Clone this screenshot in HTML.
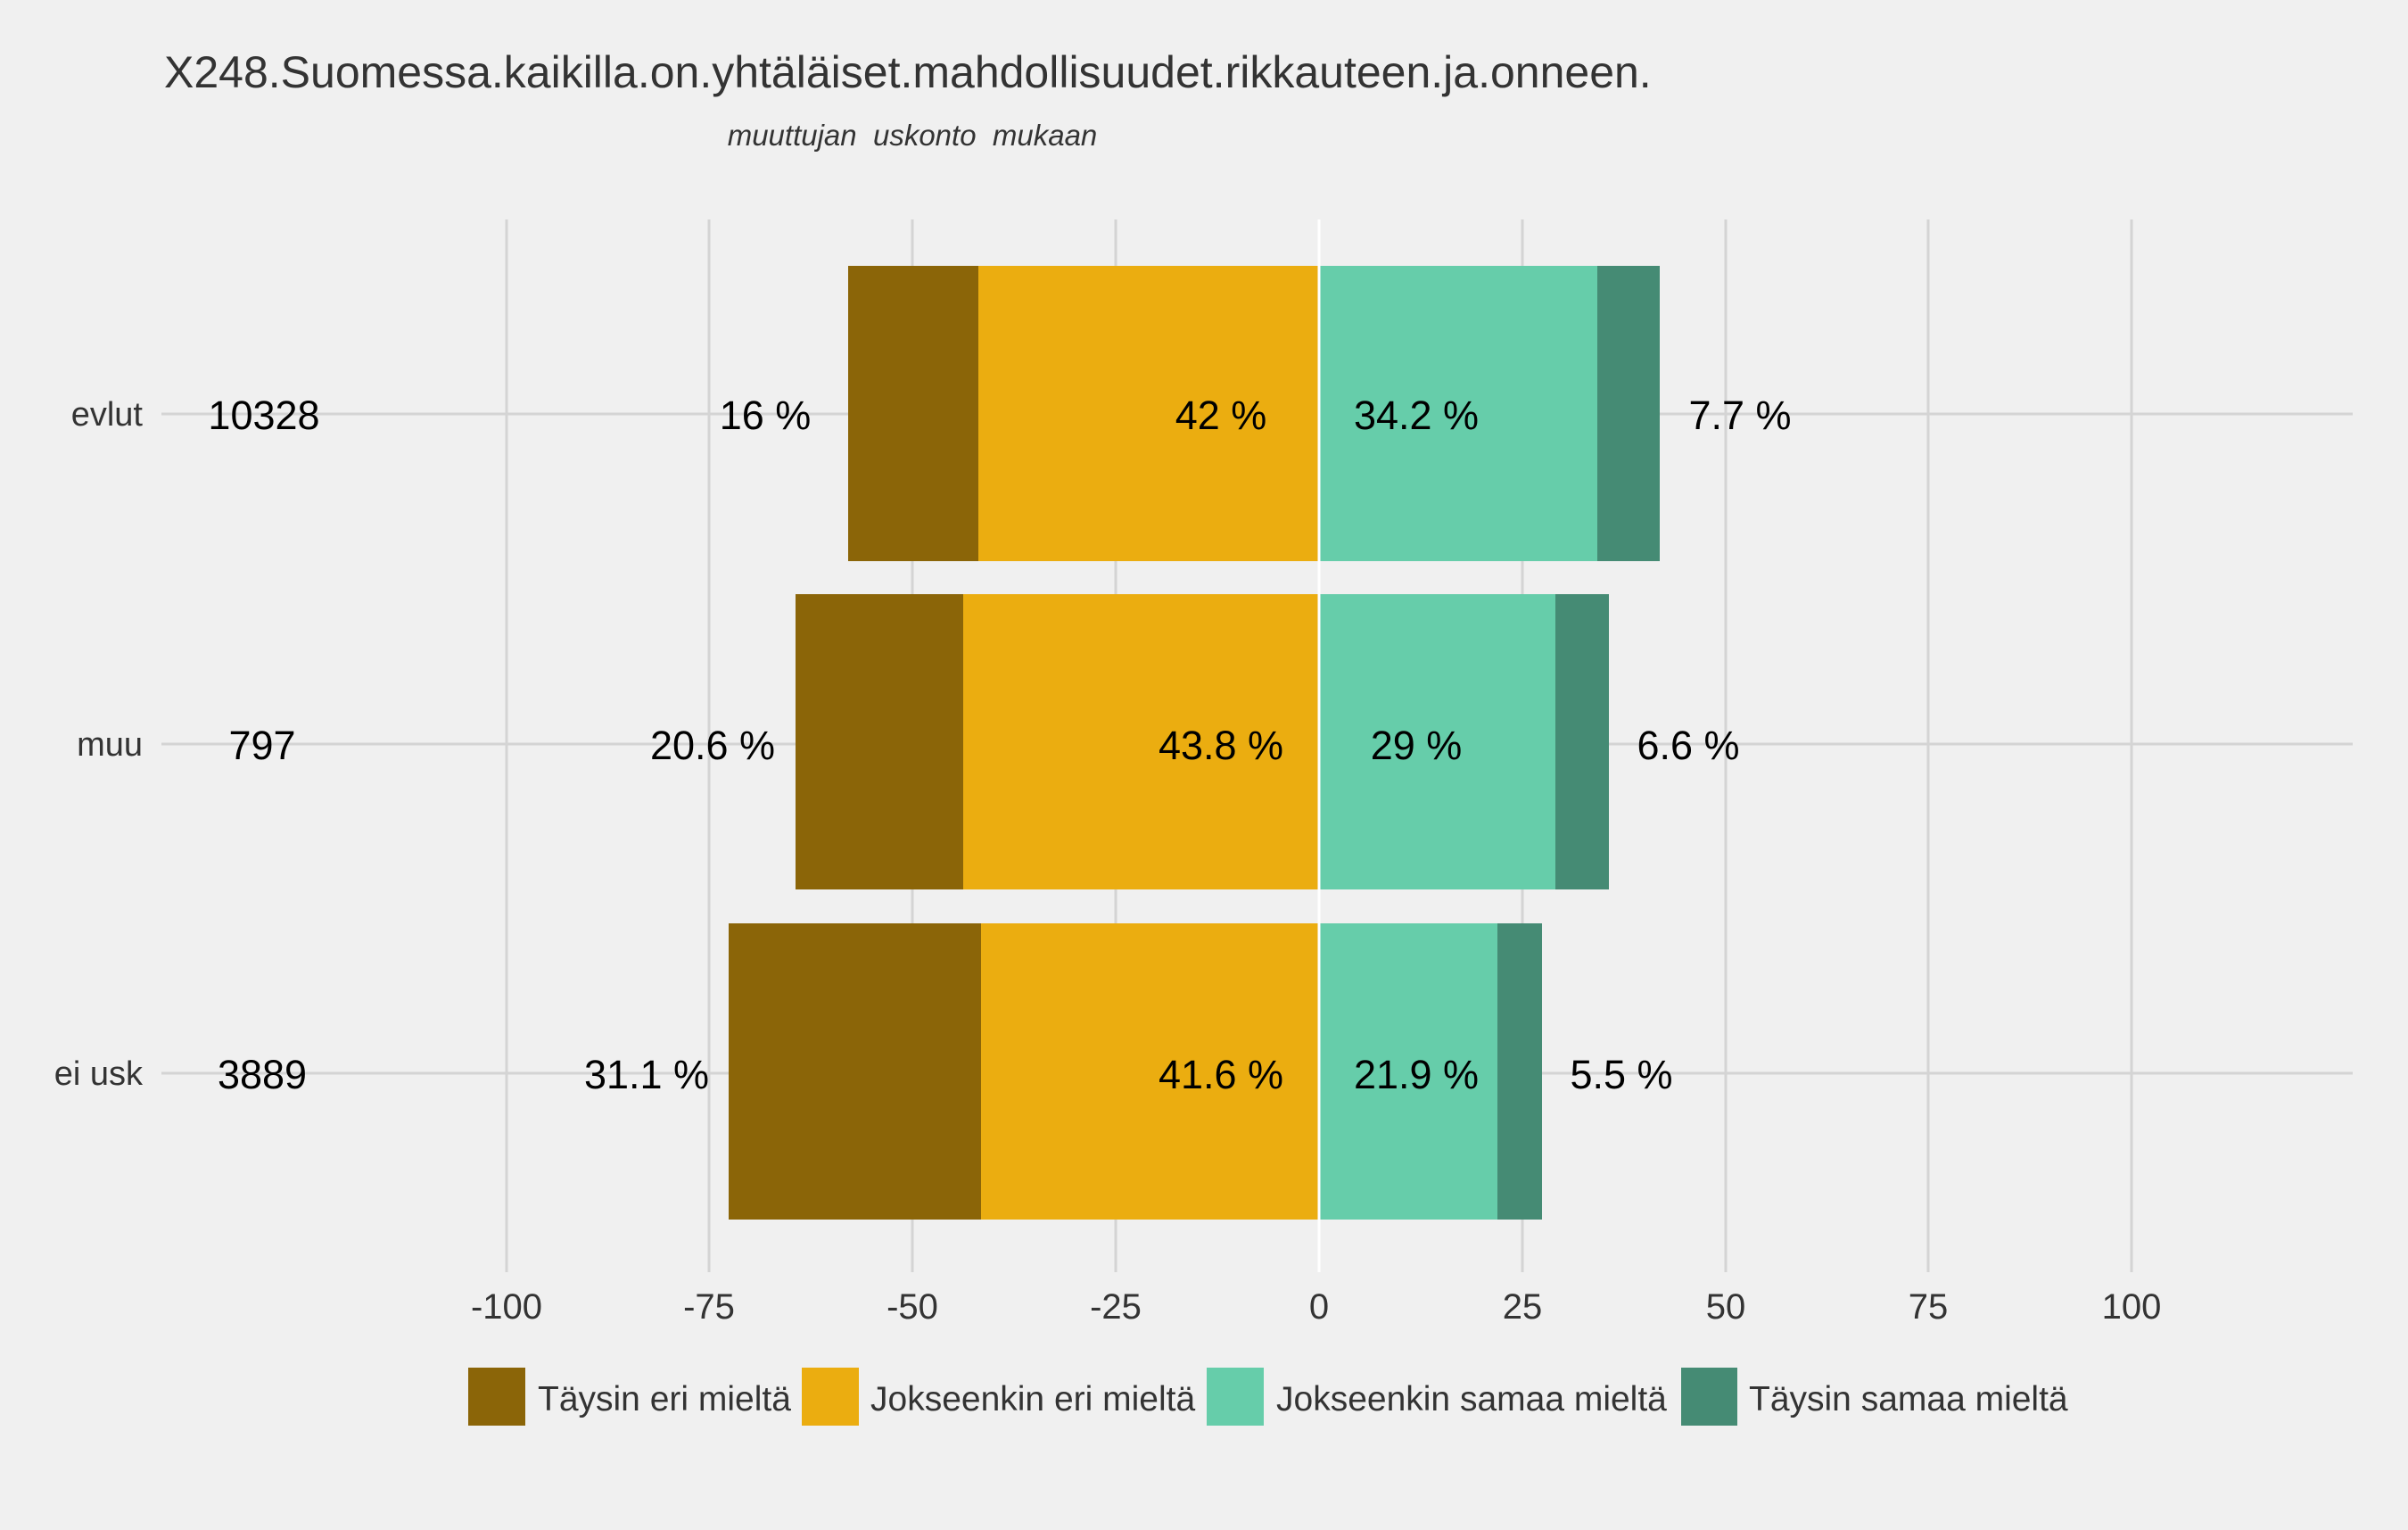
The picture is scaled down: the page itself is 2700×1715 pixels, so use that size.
<!DOCTYPE html>
<html><head><meta charset="utf-8"><style>html,body{margin:0;padding:0;background:#f0f0f0}svg{display:block}text{font-family:"Liberation Sans",Arial,sans-serif}</style></head><body>
<svg width="2700" height="1715" viewBox="0 0 2700 1715" xmlns="http://www.w3.org/2000/svg">
<rect width="2700" height="1715" fill="#f0f0f0"/>
<g stroke="#d4d4d4" stroke-width="3">
<line x1="568" y1="246" x2="568" y2="1426"/><line x1="795" y1="246" x2="795" y2="1426"/><line x1="1023" y1="246" x2="1023" y2="1426"/><line x1="1251" y1="246" x2="1251" y2="1426"/><line x1="1707" y1="246" x2="1707" y2="1426"/><line x1="1935" y1="246" x2="1935" y2="1426"/><line x1="2162" y1="246" x2="2162" y2="1426"/><line x1="2390" y1="246" x2="2390" y2="1426"/>
<line x1="181" y1="464" x2="2638" y2="464"/><line x1="181" y1="834" x2="2638" y2="834"/><line x1="181" y1="1203" x2="2638" y2="1203"/>
</g>
<rect x="951" y="298" width="146" height="331" fill="#8B6508"/>
<rect x="1097" y="298" width="382" height="331" fill="#EBAD10"/>
<rect x="1479" y="298" width="312" height="331" fill="#66CDAA"/>
<rect x="1791" y="298" width="70" height="331" fill="#458B74"/>
<rect x="892" y="666" width="188" height="331" fill="#8B6508"/>
<rect x="1080" y="666" width="399" height="331" fill="#EBAD10"/>
<rect x="1479" y="666" width="265" height="331" fill="#66CDAA"/>
<rect x="1744" y="666" width="60" height="331" fill="#458B74"/>
<rect x="817" y="1035" width="283" height="332" fill="#8B6508"/>
<rect x="1100" y="1035" width="379" height="332" fill="#EBAD10"/>
<rect x="1479" y="1035" width="200" height="332" fill="#66CDAA"/>
<rect x="1679" y="1035" width="50" height="332" fill="#458B74"/>
<line x1="1479" y1="246" x2="1479" y2="1426" stroke="#fff" stroke-width="3"/>
<g font-size="45" fill="#000" text-anchor="middle">
<text x="296" y="481">10328</text><text x="294" y="851">797</text><text x="294" y="1220">3889</text>
<text x="858" y="481">16 %</text><text x="1369" y="481">42 %</text><text x="1588" y="481">34.2 %</text><text x="1951" y="481">7.7 %</text>
<text x="799" y="851">20.6 %</text><text x="1369" y="851">43.8 %</text><text x="1588" y="851">29 %</text><text x="1893" y="851">6.6 %</text>
<text x="725" y="1220">31.1 %</text><text x="1369" y="1220">41.6 %</text><text x="1588" y="1220">21.9 %</text><text x="1818" y="1220">5.5 %</text>
</g>
<g font-size="38" fill="#333" text-anchor="end">
<text x="160" y="477">evlut</text><text x="160" y="847">muu</text><text x="160" y="1216">ei usk</text>
</g>
<g font-size="40" fill="#333" text-anchor="middle">
<text x="568" y="1478">-100</text><text x="795" y="1478">-75</text><text x="1023" y="1478">-50</text><text x="1251" y="1478">-25</text><text x="1479" y="1478">0</text><text x="1707" y="1478">25</text><text x="1935" y="1478">50</text><text x="2162" y="1478">75</text><text x="2390" y="1478">100</text>
</g>
<text x="184" y="98" font-size="50" fill="#333">X248.Suomessa.kaikilla.on.yhtäläiset.mahdollisuudet.rikkauteen.ja.onneen.</text>
<text x="1023" y="163" font-size="33" fill="#333" font-style="italic" text-anchor="middle" xml:space="preserve" style="white-space:pre">muuttujan  uskonto  mukaan</text>
<rect x="525" y="1533" width="64" height="65" fill="#8B6508"/>
<rect x="899" y="1533" width="64" height="65" fill="#EBAD10"/>
<rect x="1353" y="1533" width="64" height="65" fill="#66CDAA"/>
<rect x="1885" y="1533" width="63" height="65" fill="#458B74"/>
<g font-size="39" fill="#333">
<text x="603" y="1581">Täysin eri mieltä</text><text x="976" y="1581">Jokseenkin eri mieltä</text><text x="1431" y="1581">Jokseenkin samaa mieltä</text><text x="1961" y="1581">Täysin samaa mieltä</text>
</g>
</svg>
</body></html>
